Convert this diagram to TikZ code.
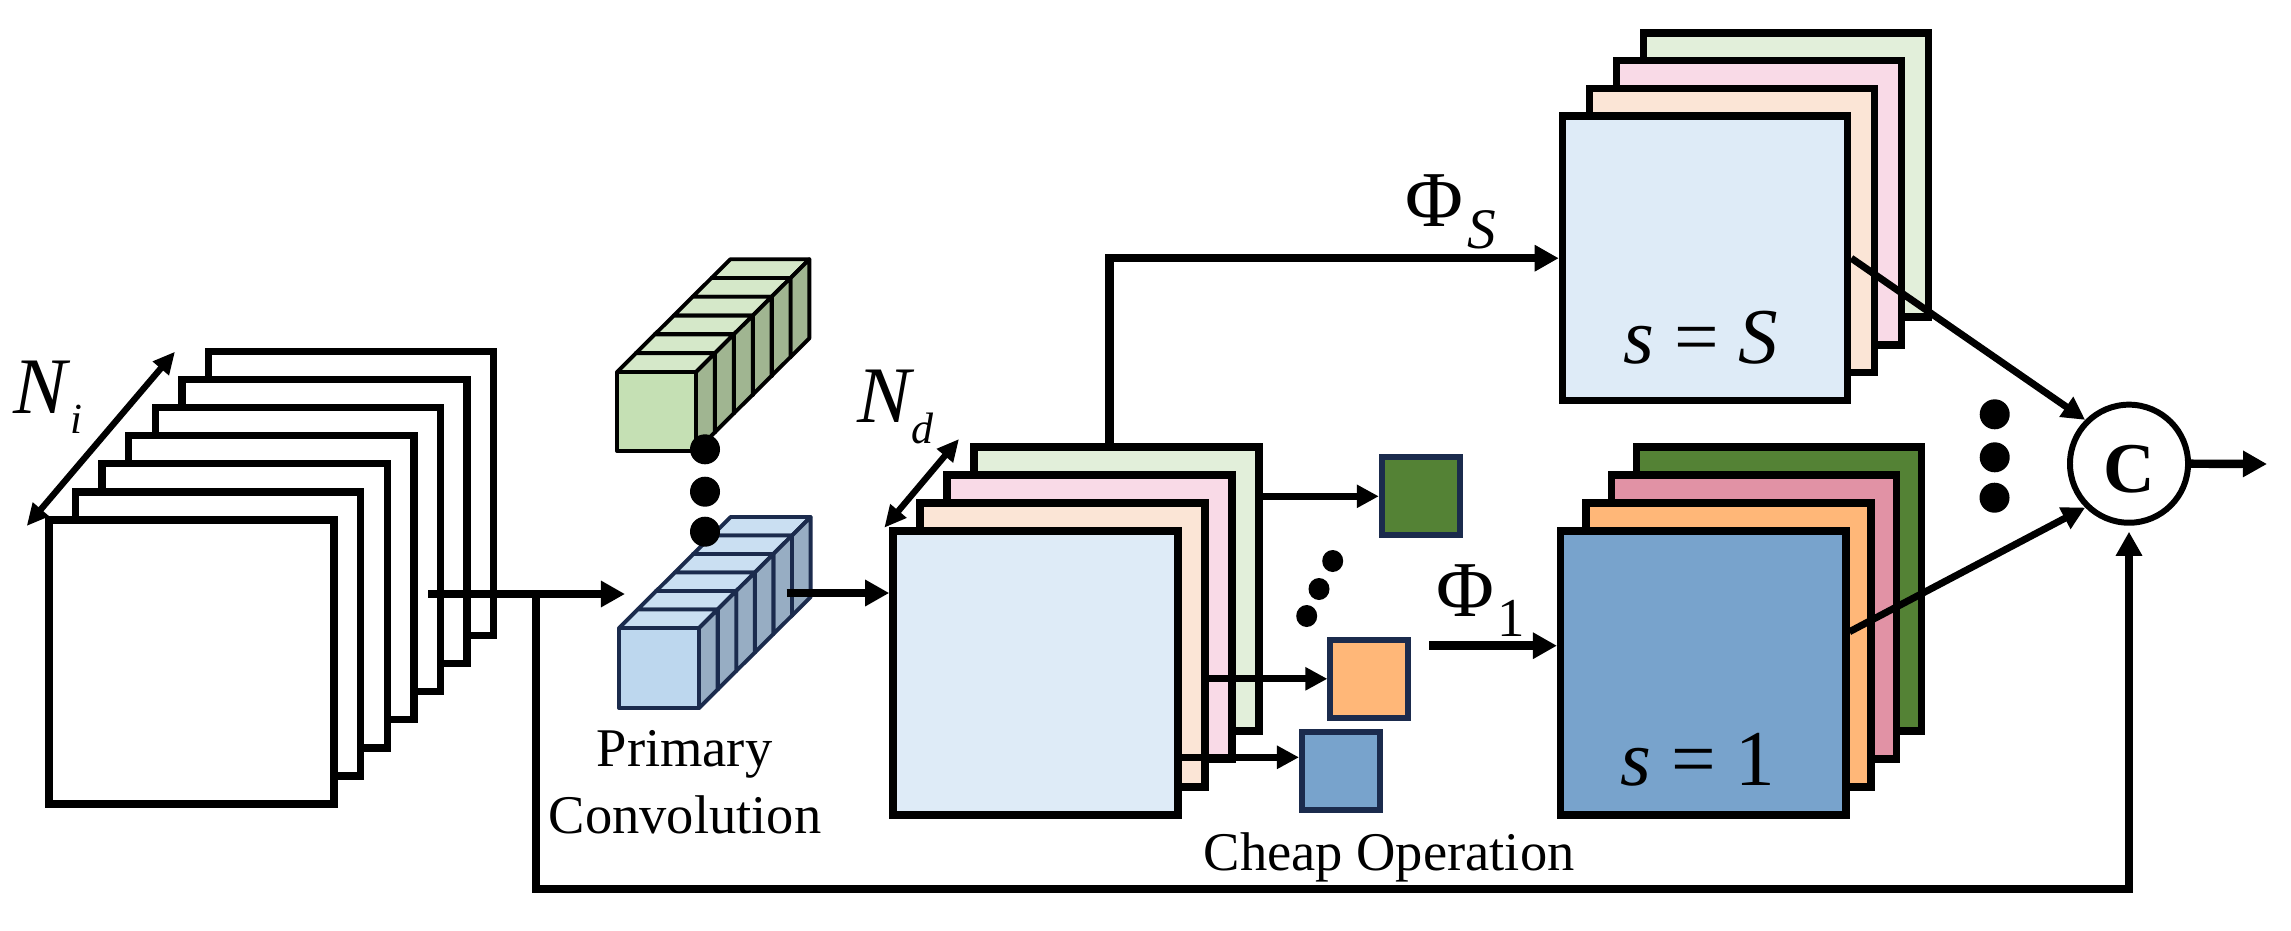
\documentclass[tikz,border=0pt]{standalone}
\usepackage{fontspec}
\setmainfont{Liberation Serif}
\usetikzlibrary{arrows.meta,calc}
\definecolor{lblue}{HTML}{DEEBF7}
\definecolor{peach}{HTML}{FBE5D6}
\definecolor{pinkl}{HTML}{F9DAE7}
\definecolor{greenl}{HTML}{E2EFDA}
\definecolor{dblue}{HTML}{78A3CC}
\definecolor{orng}{HTML}{FFB778}
\definecolor{dpink}{HTML}{E192A5}
\definecolor{dgreen}{HTML}{548235}
\definecolor{navy}{HTML}{1B2B4D}
\definecolor{gfront}{HTML}{C5E0B4}
\definecolor{gtop}{HTML}{D5E8C9}
\definecolor{gside}{HTML}{A0B591}
\definecolor{bfront}{HTML}{BDD7EE}
\definecolor{btop}{HTML}{CADFF2}
\definecolor{bside}{HTML}{97ADC3}
\begin{document}
\begin{tikzpicture}[x=0.01cm, y=-0.01cm,
  layer/.style={draw=black, line width=2.1pt, minimum width=2.85cm, minimum height=2.84cm, inner sep=0pt},
  minisq/.style={draw=navy, line width=1.7pt, minimum size=0.78cm, inner sep=0pt},
  arr/.style={line width=2.4pt, -{Triangle[length=0.24cm,width=0.25cm]}},
  arrs/.style={line width=2pt, -{Triangle[length=0.22cm,width=0.22cm]}},
  arrc/.style={line width=2pt, -{Triangle[length=0.23cm,width=0.23cm]}},
  dimarr/.style={line width=1.8pt, {Triangle[length=0.22cm,width=0.2cm]}-{Triangle[length=0.22cm,width=0.2cm]}},
  cubeg/.style={draw=black, line width=1.1pt, line join=round},
  cubeb/.style={draw=navy, line width=1.1pt, line join=round},
  txt/.style={inner sep=0pt, anchor=base west},
  bigf/.style={font=\fontsize{22.5}{24}\selectfont},
  midf/.style={font=\fontsize{15.5}{18}\selectfont},
  blackdot/.style={fill=black}
]
\fill[white] (0,0) rectangle (2291,930);
\useasboundingbox (0,0) rectangle (2291,930);

% input stack
\foreach \k in {6,5,4,3,2,1,0}
  \node[layer, fill=white] (in\k) at ({191.5+26.6*\k},{662-28.1*\k}) {};

% middle stack
\foreach \k/\c in {3/greenl,2/pinkl,1/peach,0/lblue}
  \node[layer, fill=\c] (mid\k) at ({1035.5+27*\k},{673-28*\k}) {};

% top-right stack
\foreach \k/\c in {3/greenl,2/pinkl,1/peach,0/lblue}
  \node[layer, fill=\c] (ts\k) at ({1705+27*\k},{258.2-27.7*\k}) {};

% bottom-right stack
\foreach \k/\c in {3/dgreen,2/dpink,1/orng,0/dblue}
  \node[layer, fill=\c] (br\k) at ({1703.2+25.3*\k},{672.9-28*\k}) {};

% small squares
\node[minisq, fill=dgreen] (gsq) at (1420.8,496.3) {};
\node[minisq, fill=orng] (osq) at (1369.4,678.8) {};
\node[minisq, fill=dblue] (bsq) at (1341,771.2) {};

% green cube row
\foreach \i in {5,4,3,2,1,0} {
  \pgfmathsetmacro\xa{617+18.9*\i}
  \pgfmathsetmacro\ya{372-18.8*\i}
  \filldraw[cubeg, fill=gtop] (\xa,\ya) -- ++(79,0) -- ++(18.9,-18.8) -- ++(-79,0) -- cycle;
  \filldraw[cubeg, fill=gside] (\xa+79,\ya) -- ++(0,79) -- ++(18.9,-18.8) -- ++(0,-79) -- cycle;
  \filldraw[cubeg, fill=gfront] (\xa,\ya) rectangle ++(79,79);
}
% blue cube row
\foreach \i in {5,4,3,2,1,0} {
  \pgfmathsetmacro\xa{619+18.6*\i}
  \pgfmathsetmacro\ya{628-18.5*\i}
  \filldraw[cubeb, fill=btop] (\xa,\ya) -- ++(80,0) -- ++(18.6,-18.5) -- ++(-80,0) -- cycle;
  \filldraw[cubeb, fill=bside] (\xa+80,\ya) -- ++(0,80) -- ++(18.6,-18.5) -- ++(0,-80) -- cycle;
  \filldraw[cubeb, fill=bfront] (\xa,\ya) rectangle ++(80,80);
}

% dots
\fill[blackdot] (705,449.3) circle (0.15cm);
\fill[blackdot] (705,491.7) circle (0.15cm);
\fill[blackdot] (705,531.7) circle (0.15cm);
\fill[blackdot] (1332.7,561) ellipse (0.105cm and 0.11cm);
\fill[blackdot] (1319,589) ellipse (0.105cm and 0.11cm);
\fill[blackdot] (1306.7,616) ellipse (0.105cm and 0.11cm);
\fill[blackdot] (1994.7,414.3) circle (0.15cm);
\fill[blackdot] (1994.7,457.3) circle (0.15cm);
\fill[blackdot] (1994.5,497.7) circle (0.15cm);

% concat circle
\node[circle, draw, line width=1.7pt, minimum size=1.18cm, inner sep=0pt,
      font=\fontsize{20.3}{22}\selectfont\bfseries, text height=0.58cm] (C) at (2129,463.7) {C};

% coordinates
\coordinate (inS) at (428,594);
\coordinate (pc) at (625,594);
\coordinate (split) at (536,594);
\coordinate (loopc) at (2129,889);
\coordinate (pcout) at (786.7,593);
\coordinate (up) at (1109.3,447);
\coordinate (bl) at (1200,757.3);
\coordinate (p1) at (1429,645.7);
\coordinate (b1) at (1848,631.7);
\coordinate (out) at (2267,464);
\coordinate (ni1) at (26.7,526);
\coordinate (ni2) at (175,351.7);
\coordinate (nd1) at (884.3,527.7);
\coordinate (nd2) at (959,439);

% connectors
\draw[arr] (inS) -- (pc);
\draw[arr, shorten >=0.06cm] (split) |- (loopc) -- (C.south);
\draw[arr] (pcout) -- (pcout -| mid0.west);
\draw[arr] (up) |- (ts0.west);
\draw[arrs] (mid3.east |- gsq) -- (gsq.west);
\draw[arrs] (mid1.east |- osq) -- (osq.west);
\draw[arrs] (mid0.east |- bl) -- (bsq.west |- bl);
\draw[arr] (p1) -- (p1 -| br0.west);
\draw[arrc] (ts0.east) -- (C.north west);
\draw[arrc] (br0.east |- b1) -- (C.south west);
\draw[arr] (C.east) -- (out);
\draw[dimarr] (ni1) -- (ni2);
\draw[dimarr] (nd1) -- (nd2);

% labels
\node[txt, font=\fontsize{22.8}{24}\selectfont\itshape] (Ni) at (13,413) {N};
\node[txt, font=\fontsize{12.2}{14}\selectfont\itshape] (Nisub) at (70,433) {i};
\node[txt, font=\fontsize{22.8}{24}\selectfont\itshape] (Nd) at (857,422) {N};
\node[txt, font=\fontsize{12.5}{14}\selectfont\itshape] (Ndsub) at (911,443) {d};
\node[txt, bigf] (PhiS) at (1405,226.7) {Φ};
\node[txt, font=\fontsize{16.3}{18}\selectfont\itshape] (PhiSsub) at (1467,248.3) {S};
\node[txt, bigf] (Phi1) at (1436,616) {Φ};
\node[txt, font=\fontsize{15.6}{18}\selectfont] (Phi1sub) at (1497,636.7) {1};
\node[txt, bigf] (sS) at (1623,363) {\textit{s} = \textit{S}};
\node[txt, bigf] (s1) at (1620,785) {\textit{s} = 1};
\node[midf, inner sep=0pt, anchor=base] (prim) at (684.5,766.7) {Primary};
\node[midf, inner sep=0pt, anchor=base] (conv) at (685,833.3) {Convolution};
\node[txt, midf] (cheap) at (1203,870) {Cheap Operation};
\end{tikzpicture}
\end{document}
